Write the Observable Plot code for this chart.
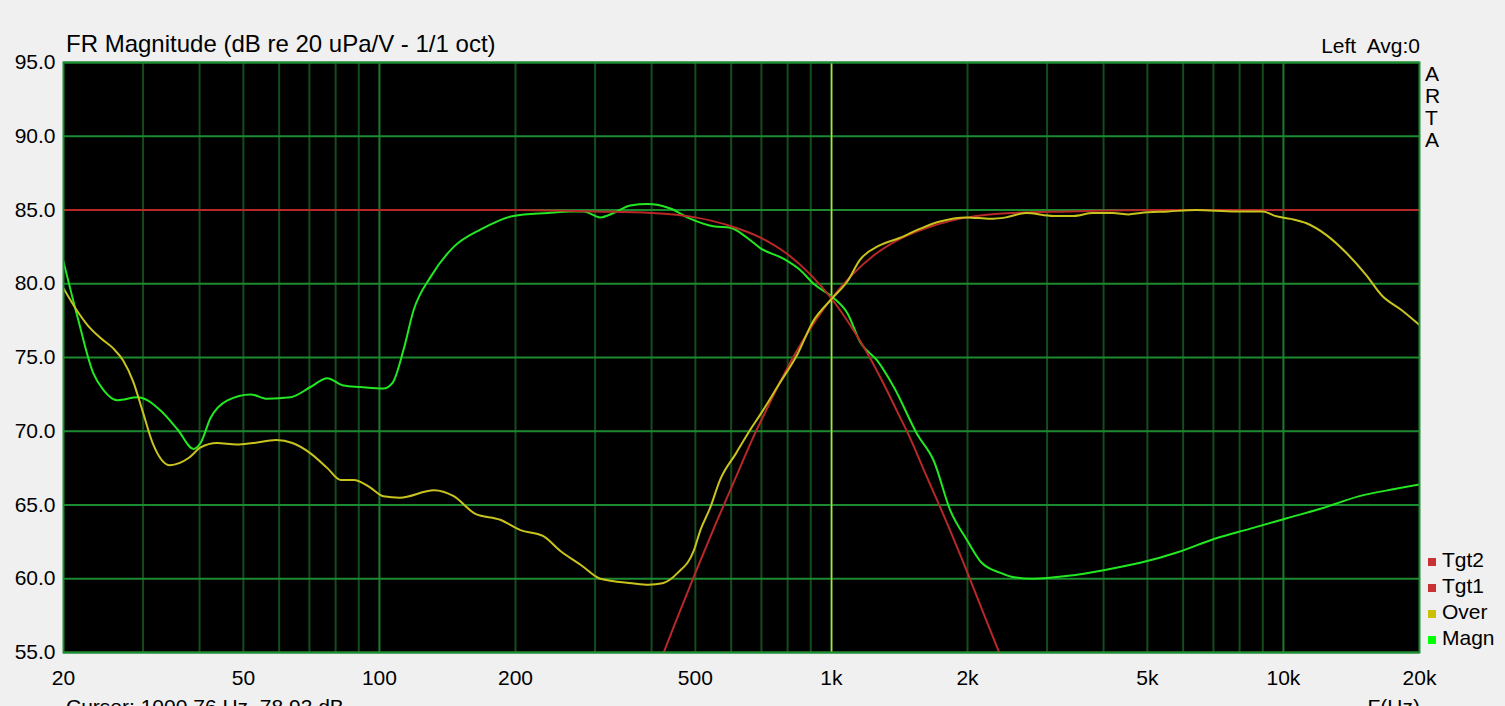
<!DOCTYPE html>
<html>
<head>
<meta charset="utf-8">
<script src="https://cdn.jsdelivr.net/npm/d3@7"></script>
<script src="https://cdn.jsdelivr.net/npm/@observablehq/plot@0.6"></script>
<style>
  html, body { margin: 0; padding: 0; background: #f0f0f0; overflow: hidden; }
  #wrap { position: relative; width: 1505px; height: 706px; overflow: hidden; background: #f0f0f0; }
  #wrap svg { position: absolute; left: 0; top: 0; }
  #txt { position: absolute; left: 0; top: 0; pointer-events: none; }
</style>
</head>
<body>
<div id="wrap"></div>
<script>
// ---- Data ----
const magnF = [20, 21.5, 23.3, 24.5, 26.3, 29.2, 30.7, 32.8, 35.8, 38.8, 40.2, 42.3, 46.1, 51.9, 56.5, 63.6, 70.4, 76.7, 83.2, 90.7, 102, 107, 113, 119, 130, 146, 168, 198, 236, 265, 283, 308, 330, 359, 392, 440, 488, 548, 598, 652, 697, 783, 855, 913, 1005, 1085, 1160, 1262, 1374, 1548, 1684, 1834, 1997, 2147, 2366, 2536, 2782, 3347, 4029, 4848, 5836, 7021, 8451, 10170, 12240, 14730, 17730, 20000];
const magnDb = [81.5, 77.7, 73.9, 72.8, 72.1, 72.3, 72.1, 71.4, 70.1, 68.8, 69.2, 70.9, 72.1, 72.5, 72.2, 72.3, 73.0, 73.6, 73.1, 73.0, 72.9, 73.3, 75.5, 78.2, 80.5, 82.5, 83.7, 84.6, 84.8, 84.9, 84.9, 84.5, 84.8, 85.3, 85.4, 85.1, 84.4, 83.9, 83.8, 83.1, 82.4, 81.7, 80.9, 80.0, 79.1, 78.0, 76.0, 74.8, 73.0, 69.8, 68.0, 64.6, 62.6, 61.1, 60.4, 60.1, 60.0, 60.2, 60.6, 61.1, 61.8, 62.7, 63.4, 64.1, 64.8, 65.6, 66.1, 66.4];

const overF = [20, 21.5, 22.6, 24.2, 25.8, 27.1, 28.5, 29.9, 31.5, 34.4, 37.9, 40.2, 43.7, 48.3, 52.5, 59.1, 64.2, 70.4, 76.7, 82, 87.7, 95.3, 102, 111, 132, 146, 163, 185, 205, 230, 251, 280, 308, 362, 394, 423, 457, 496, 513, 539, 567, 615, 652, 705, 766, 837, 913, 996, 1087, 1155, 1278, 1414, 1563, 1729, 1991, 2246, 2435, 2694, 3100, 3429, 3793, 4196, 4548, 4830, 5564, 6406, 7834, 9016, 9578, 10380, 11250, 12450, 13770, 15230, 16510, 18270, 20000];
const overDb = [79.7, 78.1, 77.2, 76.3, 75.6, 74.8, 73.4, 71.4, 69.2, 67.7, 68.2, 68.9, 69.2, 69.1, 69.2, 69.4, 69.2, 68.5, 67.5, 66.7, 66.7, 66.2, 65.6, 65.5, 66.0, 65.6, 64.4, 64.0, 63.3, 62.9, 61.9, 60.9, 60.0, 59.7, 59.6, 59.7, 60.4, 61.9, 63.3, 64.8, 66.7, 68.5, 69.8, 71.4, 73.2, 75.1, 77.5, 78.9, 80.2, 81.6, 82.6, 83.1, 83.7, 84.2, 84.5, 84.4, 84.5, 84.8, 84.6, 84.6, 84.8, 84.8, 84.7, 84.8, 84.9, 85.0, 84.9, 84.9, 84.6, 84.4, 84.1, 83.3, 82.1, 80.6, 79.2, 78.2, 77.2];

const tgt1F = [20, 200, 300, 400, 500, 600, 700, 800, 900, 1000, 1100, 1200, 1300, 1400, 1500, 1600, 1800, 2000, 2200, 2400];
const tgt1Db = [85.0, 85.0, 84.9, 84.8, 84.5, 83.9, 83.1, 82.0, 80.6, 79.0, 77.2, 75.3, 73.3, 71.3, 69.4, 67.4, 63.8, 60.4, 57.2, 54.3];

const tgt2F = [400, 450, 500, 556, 625, 667, 714, 769, 833, 909, 1000, 1111, 1250, 1429, 1667, 2000, 2500, 3333, 5000, 20000];
const tgt2Db = [52.9, 56.9, 60.4, 63.8, 67.4, 69.4, 71.3, 73.3, 75.3, 77.2, 79.0, 80.6, 82.0, 83.1, 83.9, 84.5, 84.8, 84.9, 85.0, 85.0];

const cursorF = [1000.76];

const xTickVals = [20, 50, 100, 200, 500, 1000, 2000, 5000, 10000, 20000];
const xTickLabels = ["20", "50", "100", "200", "500", "1k", "2k", "5k", "10k", "20k"];
const yTickVals = [55, 60, 65, 70, 75, 80, 85, 90, 95];
const yTickLabels = ["55.0", "60.0", "65.0", "70.0", "75.0", "80.0", "85.0", "90.0", "95.0"];
const minorGridX = [30, 40, 50, 60, 70, 80, 90, 200, 300, 400, 500, 600, 700, 800, 900, 2000, 3000, 4000, 5000, 6000, 7000, 8000, 9000];
const majorGridX = [100, 1000, 10000];

const seriesNames = ["Tgt2", "Tgt1", "Over", "Magn"];
const seriesColors = ["#c83232", "#c83232", "#c8c000", "#00ff00"];

// ---- Build tables ----
const toRows = (fs, ds) => fs.map((f, i) => ({f, db: ds[i]}));
const magn = toRows(magnF, magnDb);
const over = toRows(overF, overDb);
const tgt1 = toRows(tgt1F, tgt1Db);
const tgt2 = toRows(tgt2F, tgt2Db);

const labelFor = (vals, labels) => d => {
  const i = vals.findIndex(v => Math.abs(v - d) / v < 1e-6);
  return i >= 0 ? labels[i] : "";
};

const W = 1505, H = 706;
const chart = Plot.plot({
  width: W,
  height: H,
  marginLeft: 63,
  marginRight: 86,
  marginTop: 62,
  marginBottom: 54,
  style: {fontFamily: "'Liberation Sans', Arial, sans-serif", fontSize: "21px", background: "#f0f0f0", color: "#000", overflow: "visible"},
  x: {type: "log", domain: [20, 20000], label: null},
  y: {domain: [55, 95], label: null},
  marks: [
    Plot.frame({fill: "#000000"}),
    Plot.ruleX(minorGridX, {stroke: "#144c1c", strokeWidth: 2}),
    Plot.ruleX(majorGridX, {stroke: "#1c7a2a", strokeWidth: 2}),
    Plot.ruleY(yTickVals, {stroke: "#1c8a2e", strokeWidth: 2}),
    Plot.ruleX(cursorF, {stroke: "#d8d028", strokeWidth: 1.5}),
    Plot.line(magn, {x: "f", y: "db", stroke: "#22e822", strokeWidth: 2, curve: "monotone-x", clip: true}),
    Plot.line(tgt1, {x: "f", y: "db", stroke: "#b82828", strokeWidth: 2, curve: "monotone-x", clip: true}),
    Plot.line(tgt2, {x: "f", y: "db", stroke: "#b82828", strokeWidth: 2, curve: "monotone-x", clip: true}),
    Plot.line(over, {x: "f", y: "db", stroke: "#c9c31e", strokeWidth: 2, curve: "monotone-x", clip: true}),
    Plot.frame({stroke: "#1e8c32", strokeWidth: 2}),
    Plot.axisX(xTickVals, {tickFormat: labelFor(xTickVals, xTickLabels), tickSize: 0, tickPadding: 18, label: null, fontSize: 21}),
    Plot.axisY(yTickVals, {tickFormat: labelFor(yTickVals, yTickLabels), tickSize: 0, tickPadding: 8, label: null, fontSize: 21})
  ]
});
const wrap = document.getElementById("wrap");
wrap.appendChild(chart);

// ---- Text annotations (title, legend, etc.) ----
const NS = "http://www.w3.org/2000/svg";
const t = document.createElementNS(NS, "svg");
t.setAttribute("id", "txt");
t.setAttribute("width", W);
t.setAttribute("height", H);
t.setAttribute("font-family", "'Liberation Sans', Arial, sans-serif");
function addText(str, x, y, size, anchor) {
  const e = document.createElementNS(NS, "text");
  e.setAttribute("x", x); e.setAttribute("y", y);
  e.setAttribute("font-size", size);
  e.setAttribute("fill", "#000");
  e.setAttribute("style", "white-space:pre");
  if (anchor) e.setAttribute("text-anchor", anchor);
  e.textContent = str;
  t.appendChild(e);
  return e;
}
addText("FR Magnitude (dB re 20 uPa/V - 1/1 oct)", 66, 52, 24);
addText("Left  Avg:0", 1420, 53, 21, "end");
["A", "R", "T", "A"].forEach((c, i) => addText(c, 1425, 81 + i * 21.9, 21));
seriesNames.forEach((name, i) => {
  const by = 567 + i * 26;
  const r = document.createElementNS(NS, "rect");
  r.setAttribute("x", 1428); r.setAttribute("y", by - 9);
  r.setAttribute("width", 8); r.setAttribute("height", 8);
  r.setAttribute("fill", seriesColors[i]);
  t.appendChild(r);
  addText(name, 1442, by, 21);
});
addText("Cursor: 1000.76 Hz, 78.93 dB", 66, 714, 21);
addText("F(Hz)", 1420, 714, 21, "end");
wrap.appendChild(t);
</script>
</body>
</html>
